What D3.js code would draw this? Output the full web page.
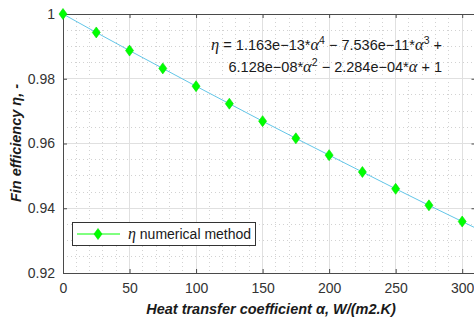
<!DOCTYPE html>
<html><head><meta charset="utf-8">
<script src="https://cdn.jsdelivr.net/npm/d3@7"></script>
<style>body{margin:0;background:#fff;overflow:hidden}svg{display:block}text{font-family:"Liberation Sans",Arial,sans-serif}</style>
</head><body>
<svg id="c" width="474" height="322"></svg>
<script>
const alphaVals = [0,25,50,75,100,125,150,175,200,225,250,275,300];
const etaVals = [1.0,0.9943,0.9887,0.9832,0.9777,0.9723,0.9669,0.9616,0.9564,0.9512,0.9460,0.9409,0.9359];
const fitAlpha = [0,25,50,75,100,125,150,175,200,225,250,275,300,310];
const fitEta = [1.0,0.9943,0.9887,0.9832,0.9777,0.9723,0.9669,0.9616,0.9564,0.9512,0.9460,0.9409,0.9359,0.9339];
const xTicks = [0,50,100,150,200,250,300];
const yTicks = [0.92,0.94,0.96,0.98,1];
const yTickLabels = ["0.92","0.94","0.96","0.98","1"];

const svg = d3.select("#c");
const L=63, R=475.5, T=14, B=273;
const x = d3.scaleLinear().domain([0,310]).range([L,R]);
const y = d3.scaleLinear().domain([0.92,1]).range([B,T]);

const g = svg.append("g");
// minor grid
g.append("g").selectAll("line").data(d3.range(10,310,10).filter(v=>v%50!==0)).join("line")
 .attr("x1",d=>x(d)).attr("x2",d=>x(d)).attr("y1",T).attr("y2",B)
 .attr("stroke","#d2d2d2").attr("stroke-width",1).attr("stroke-dasharray","1,3").attr("shape-rendering","crispEdges");
g.append("g").selectAll("line").data(d3.range(0.925,1,0.005).filter((v,i)=>(i+1)%4!==0)).join("line")
 .attr("y1",d=>y(d)).attr("y2",d=>y(d)).attr("x1",L).attr("x2",R)
 .attr("stroke","#d2d2d2").attr("stroke-width",1).attr("stroke-dasharray","1,3").attr("shape-rendering","crispEdges");
// major grid
g.append("g").selectAll("line").data(xTicks.slice(1)).join("line")
 .attr("x1",d=>x(d)).attr("x2",d=>x(d)).attr("y1",T).attr("y2",B)
 .attr("stroke","#e0e0e0").attr("stroke-width",1).attr("shape-rendering","crispEdges");
g.append("g").selectAll("line").data(yTicks.slice(1,4)).join("line")
 .attr("y1",d=>y(d)).attr("y2",d=>y(d)).attr("x1",L).attr("x2",R)
 .attr("stroke","#e0e0e0").attr("stroke-width",1).attr("shape-rendering","crispEdges");

// axes
const ax = d3.axisBottom(x).tickValues(xTicks).tickSize(-4).tickPadding(10).tickFormat(d3.format("d"));
svg.append("g").attr("transform",`translate(0,${B})`).call(ax);
const axT = d3.axisTop(x).tickValues(xTicks).tickSize(-4).tickFormat("");
svg.append("g").attr("transform",`translate(0,${T})`).call(axT);
const ay = d3.axisLeft(y).tickValues(yTicks).tickSize(-4).tickPadding(8).tickFormat((d,i)=>yTickLabels[i]);
svg.append("g").attr("transform",`translate(${L},0)`).call(ay);
const ayR = d3.axisRight(y).tickValues(yTicks).tickSize(-4).tickFormat("");
svg.append("g").attr("transform",`translate(${R},0)`).call(ayR);
svg.selectAll(".domain").attr("stroke","#4a4a4a").attr("stroke-width",1);
svg.selectAll(".tick line").attr("stroke","#4a4a4a");
svg.selectAll(".tick text").attr("fill","#333").attr("font-size",14).attr("font-family","Liberation Sans, Arial, sans-serif");

// fit line
const line = d3.line().x((d,i)=>x(fitAlpha[i])).y(d=>y(d));
svg.append("path").datum(fitEta).attr("d",line).attr("fill","none").attr("stroke","#63c6e8").attr("stroke-width",1);
// diamonds
const diamond = "M0,-5.5L4,0L0,5.5L-4,0Z";
svg.append("g").selectAll("path").data(etaVals).join("path")
 .attr("d",diamond)
 .attr("transform",(d,i)=>`translate(${x(alphaVals[i])},${y(d)})`)
 .attr("fill","#00ff00").attr("stroke","#00e000").attr("stroke-width",0.6);

// equation
const eq = svg.append("g").attr("font-size",14.5).attr("fill","#1a1a1a");
const t1 = eq.append("text").attr("x",442).attr("y",50).attr("text-anchor","end");
t1.append("tspan").attr("font-family","Liberation Serif, serif").attr("font-style","italic").attr("font-size",16.5).text("η");
t1.append("tspan").text(" = 1.163e\u221213*");
t1.append("tspan").attr("font-family","Liberation Serif, serif").attr("font-style","italic").attr("font-size",16.5).text("α");
t1.append("tspan").attr("font-size",10.5).attr("dy",-6).text("4");
t1.append("tspan").attr("dy",6).text(" \u2212 7.536e\u221211*");
t1.append("tspan").attr("font-family","Liberation Serif, serif").attr("font-style","italic").attr("font-size",16.5).text("α");
t1.append("tspan").attr("font-size",10.5).attr("dy",-6).text("3");
t1.append("tspan").attr("dy",6).text(" +");
const t2 = eq.append("text").attr("x",442).attr("y",72).attr("text-anchor","end");
t2.append("tspan").text("6.128e\u221208*");
t2.append("tspan").attr("font-family","Liberation Serif, serif").attr("font-style","italic").attr("font-size",16.5).text("α");
t2.append("tspan").attr("font-size",10.5).attr("dy",-6).text("2");
t2.append("tspan").attr("dy",6).text(" \u2212 2.284e\u221204*");
t2.append("tspan").attr("font-family","Liberation Serif, serif").attr("font-style","italic").attr("font-size",16.5).text("α");
t2.append("tspan").text(" + 1");

// legend
const lg = svg.append("g");
lg.append("rect").attr("x",72.5).attr("y",222.5).attr("width",183).attr("height",23).attr("fill","#fff").attr("stroke","#333").attr("stroke-width",1);
lg.append("line").attr("x1",77).attr("x2",120).attr("y1",234).attr("y2",234).attr("stroke","#00ff00").attr("stroke-width",1);
lg.append("path").attr("d",diamond).attr("transform","translate(98,234)").attr("fill","#00ff00").attr("stroke","#00e000").attr("stroke-width",0.6);
const lt = lg.append("text").attr("x",128).attr("y",239).attr("font-size",14).attr("fill","#1a1a1a");
lt.append("tspan").attr("font-family","Liberation Serif, serif").attr("font-style","italic").attr("font-size",16).text("η");
lt.append("tspan").text(" numerical method");

// axis labels
svg.append("text").attr("x",271).attr("y",314).attr("text-anchor","middle").attr("font-size",14.5).attr("font-weight","bold").attr("font-style","italic").attr("fill","#1a1a1a")
 .text("Heat transfer coefficient α, W/(m2.K)");
svg.append("text").attr("transform","translate(21,143) rotate(-90)").attr("text-anchor","middle").attr("font-size",14.5).attr("font-weight","bold").attr("font-style","italic").attr("fill","#1a1a1a")
 .text("Fin efficiency η, -");
</script>
</body></html>
